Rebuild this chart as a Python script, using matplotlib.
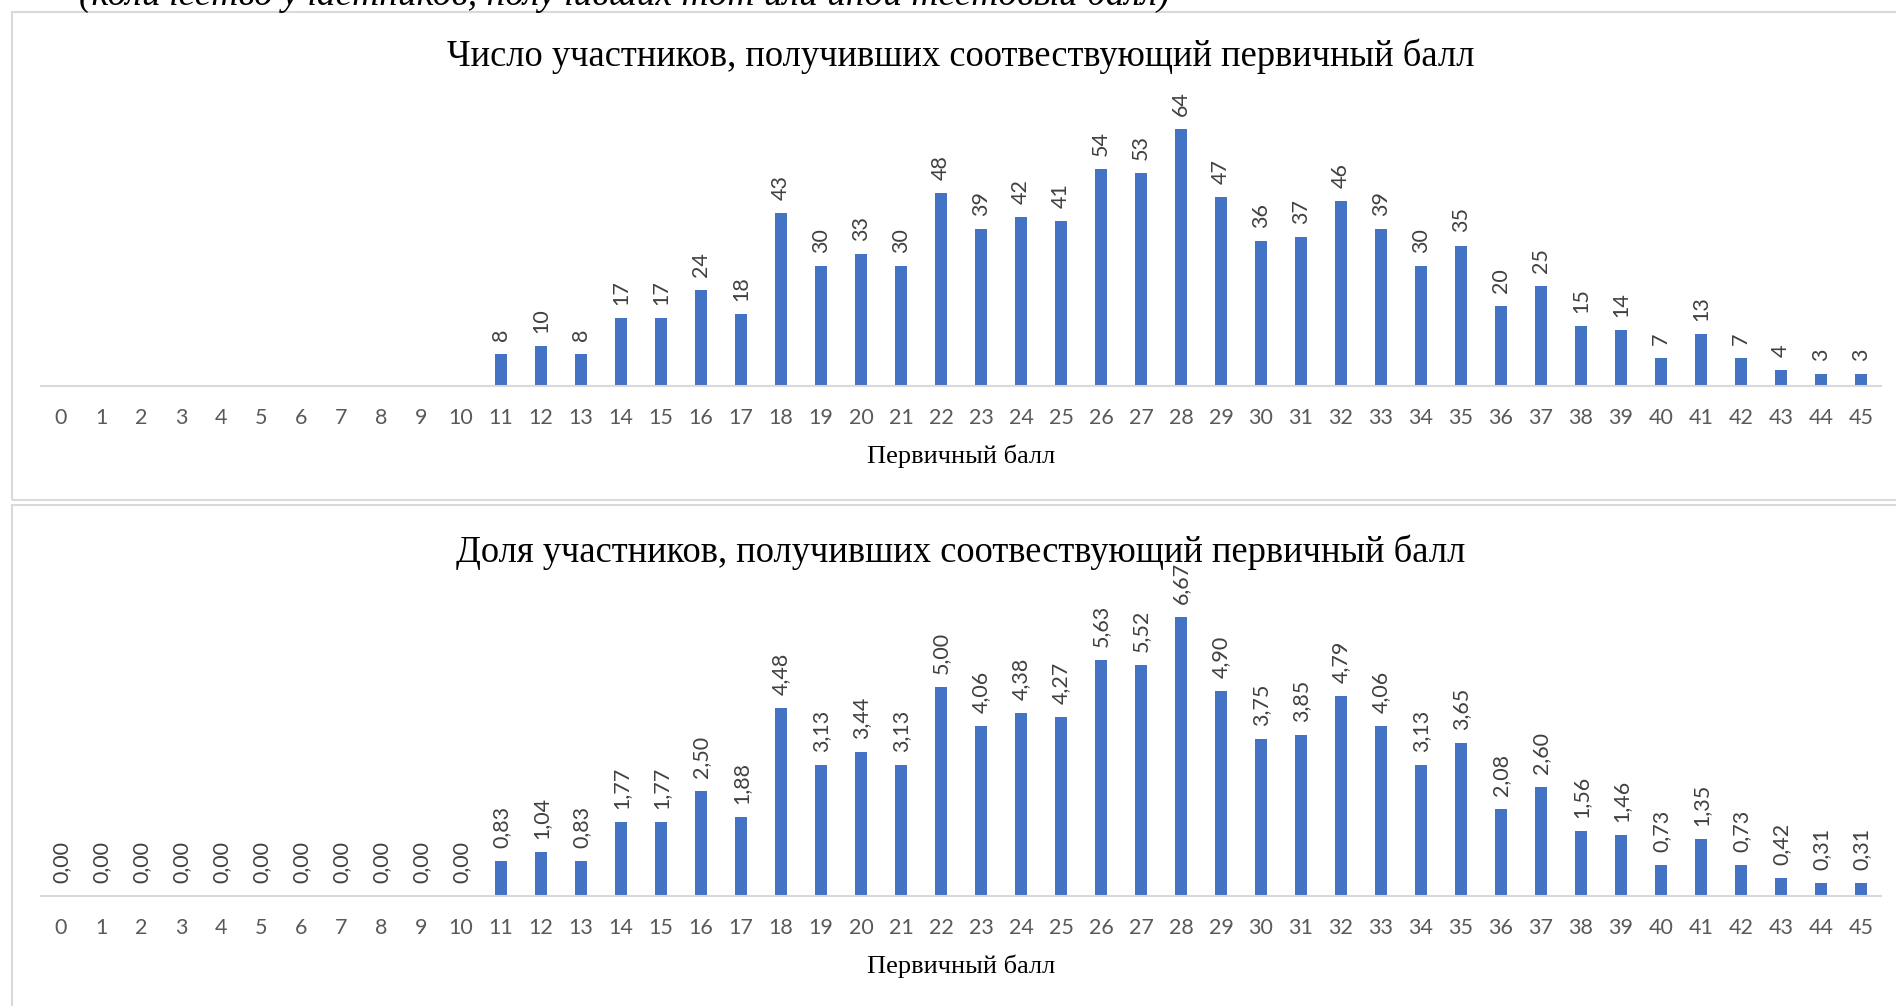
import matplotlib
matplotlib.use("Agg")
import matplotlib.pyplot as plt
from matplotlib.patches import Rectangle

# данные
scores = list(range(46))
counts = [0, 0, 0, 0, 0, 0, 0, 0, 0, 0, 0,
          8, 10, 8, 17, 17, 24, 18, 43, 30, 33, 30, 48, 39, 42, 41, 54, 53, 64,
          47, 36, 37, 46, 39, 30, 35, 20, 25, 15, 14, 7, 13, 7, 4, 3, 3]
shares = [0.00, 0.00, 0.00, 0.00, 0.00, 0.00, 0.00, 0.00, 0.00, 0.00, 0.00,
          0.83, 1.04, 0.83, 1.77, 1.77, 2.50, 1.88, 4.48, 3.13, 3.44, 3.13, 5.00,
          4.06, 4.38, 4.27, 5.63, 5.52, 6.67, 4.90, 3.75, 3.85, 4.79, 4.06, 3.13,
          3.65, 2.08, 2.60, 1.56, 1.46, 0.73, 1.35, 0.73, 0.42, 0.31, 0.31]

title1 = "Число участников, получивших соотвествующий первичный балл"
title2 = "Доля участников, получивших соотвествующий первичный балл"
xlab = "Первичный балл"
top_note = "(количество участников, получивших тот или иной тестовый балл)"

W, H = 1896, 1006
fig = plt.figure(figsize=(W / 100, H / 100), dpi=100)

def box(x0, y0, x1, y1):
    # пиксели от верхнего левого угла -> координаты фигуры
    return [x0 / W, 1 - y1 / H, (x1 - x0) / W, (y1 - y0) / H]

blue = "#4472C4"
serif = "Liberation Serif"
sans = "Lato"

# рамки диаграмм
for (x0, y0, x1, y1) in [(12, 12, 1910, 500), (12, 505, 1910, 1020)]:
    fig.patches.append(Rectangle((x0 / W, 1 - y1 / H), (x1 - x0) / W, (y1 - y0) / H,
                                 transform=fig.transFigure, fill=False,
                                 edgecolor="#D9D9D9", lw=1.5))

fig.text(79 / W, 1 - 5 / H, top_note, family=serif, style="italic", fontsize=27,
         ha="left", va="baseline")

def draw(ax, vals, ymax, labels):
    ax.bar(scores, vals, width=0.31, color=blue)
    ax.set_xlim(-0.5, 45.5)
    ax.set_ylim(0, ymax)
    ax.set_xticks(scores)
    ax.set_xticklabels([str(s) for s in scores], family=sans, fontsize=15.5, color="#595959")
    ax.tick_params(axis="x", length=0, pad=16)
    ax.set_yticks([])
    for s in ["top", "left", "right"]:
        ax.spines[s].set_visible(False)
    ax.spines["bottom"].set_color("#D9D9D9")
    ax.spines["bottom"].set_linewidth(1.5)
    for x, v, t in zip(scores, vals, labels):
        if t is None:
            continue
        ax.annotate(t, (x, v), xytext=(0, 13), textcoords="offset pixels",
                    rotation=90, ha="center", va="bottom", family=sans,
                    fontsize=15.5, color="#404040", annotation_clip=False)

ax1 = fig.add_axes(box(41, 105, 1881, 386))
draw(ax1, counts, 70, [str(c) if c > 0 else None for c in counts])
fig.text(961 / W, 1 - 56 / H, title1, family=serif, fontsize=26.3, ha="center", va="center")
fig.text(961 / W, 1 - 456 / H, xlab, family=serif, fontsize=19, ha="center", va="center")

ax2 = fig.add_axes(box(41, 603, 1881, 896))
draw(ax2, shares, 7, [f"{v:.2f}".replace(".", ",") for v in shares])
fig.text(961 / W, 1 - 552 / H, title2, family=serif, fontsize=26.3, ha="center", va="center")
fig.text(961 / W, 1 - 966 / H, xlab, family=serif, fontsize=19, ha="center", va="center")

fig.savefig("out.png", dpi=100)
